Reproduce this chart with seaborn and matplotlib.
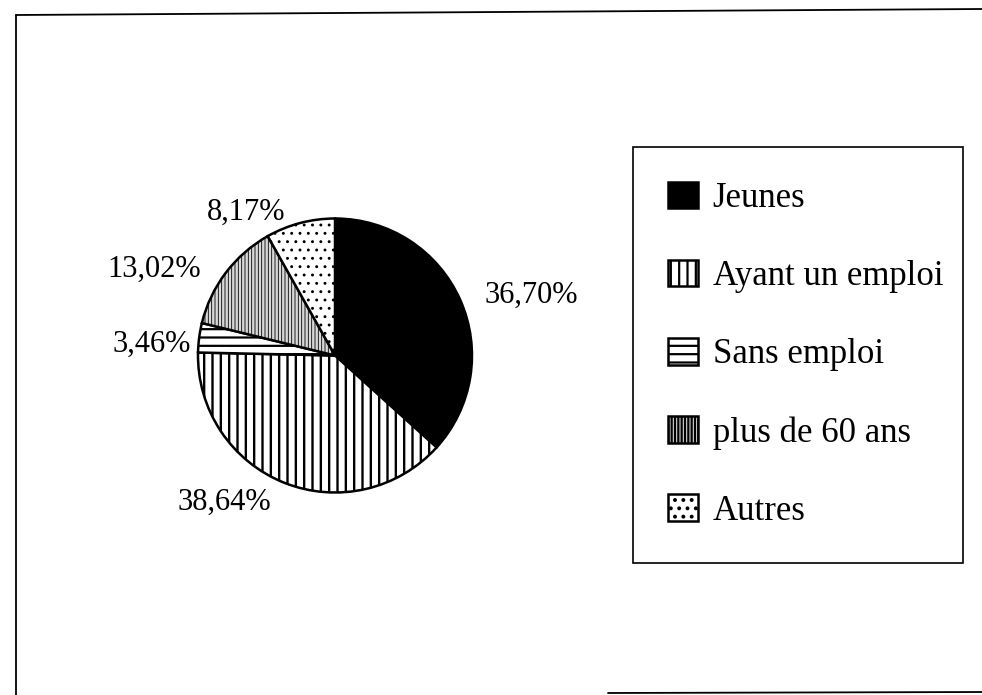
import matplotlib
matplotlib.use("Agg")
import matplotlib.pyplot as plt
import seaborn as sns
from matplotlib.lines import Line2D

# ---- data ----
categories = ["Jeunes", "Ayant un emploi", "Sans emploi", "plus de 60 ans", "Autres"]
shares = [36.70, 38.64, 3.46, 13.02, 8.17]
pct_labels = ["36,70%", "38,64%", "3,46%", "13,02%", "8,17%"]

# ---- styles / layout ----
face_colors = ["black", "white", "white", "#d8d8d8", "white"]
hatches = [None, "||", "--", "|||||", ".."]
hatch_widths = [1.6, 1.7, 1.6, 0.6, 0.9]
label_offsets = [(1.434, 0.442), (-0.807, -1.069), (-1.339, 0.084),
                 (-1.321, 0.631), (-0.646, 1.047)]

sns.set_theme(style="white")
plt.rcParams["font.family"] = ["Liberation Serif", "DejaVu Serif"]
plt.rcParams["hatch.linewidth"] = 1.6

W, H = 982, 695
fig = plt.figure(figsize=(W / 100, H / 100), dpi=100)
fig.patch.set_facecolor("white")

cx, cy, R = 335, 355.5, 137
ax = fig.add_axes([(cx - 2 * R) / W, 1 - (cy + 2 * R) / H, 4 * R / W, 4 * R / H])
wedges, _ = ax.pie(shares, colors=face_colors, startangle=90, counterclock=False,
                   wedgeprops=dict(edgecolor="black", linewidth=1.8))
for w, h, hw in zip(wedges, hatches, hatch_widths):
    if h:
        w.set_hatch(h)
    if hasattr(w, "set_hatch_linewidth"):
        w.set_hatch_linewidth(hw)
ax.set_xlim(-2, 2)
ax.set_ylim(-2, 2)
ax.set_aspect("equal")
ax.axis("off")

for (dx, dy), lab in zip(label_offsets, pct_labels):
    ax.text(dx, dy, lab, ha="center", va="center", fontsize=22, color="black")

leg = fig.legend(wedges, categories, loc="upper left",
                 bbox_to_anchor=(633 / W, 1 - 558 / H, 330 / W, 411 / H),
                 mode="expand", borderaxespad=0, fontsize=25,
                 handlelength=0.86, handleheight=0.8, handletextpad=0.43,
                 labelspacing=1.29, borderpad=1.0, fancybox=False,
                 framealpha=1, edgecolor="black")
leg.get_frame().set_linewidth(1.2)
for t in leg.get_texts():
    t.set_color("black")

# page border fragments
border = dict(color="black", lw=1.3, transform=fig.transFigure)
fig.add_artist(Line2D([16 / W, 16 / W], [1 - 15 / H, 0], **border))
fig.add_artist(Line2D([16 / W, 1], [1 - 15 / H, 1 - 9 / H], **border))
fig.add_artist(Line2D([608 / W, 1], [1 - 693 / H, 1 - 692 / H], **border))

fig.savefig("out.png", dpi=100, facecolor="white")
